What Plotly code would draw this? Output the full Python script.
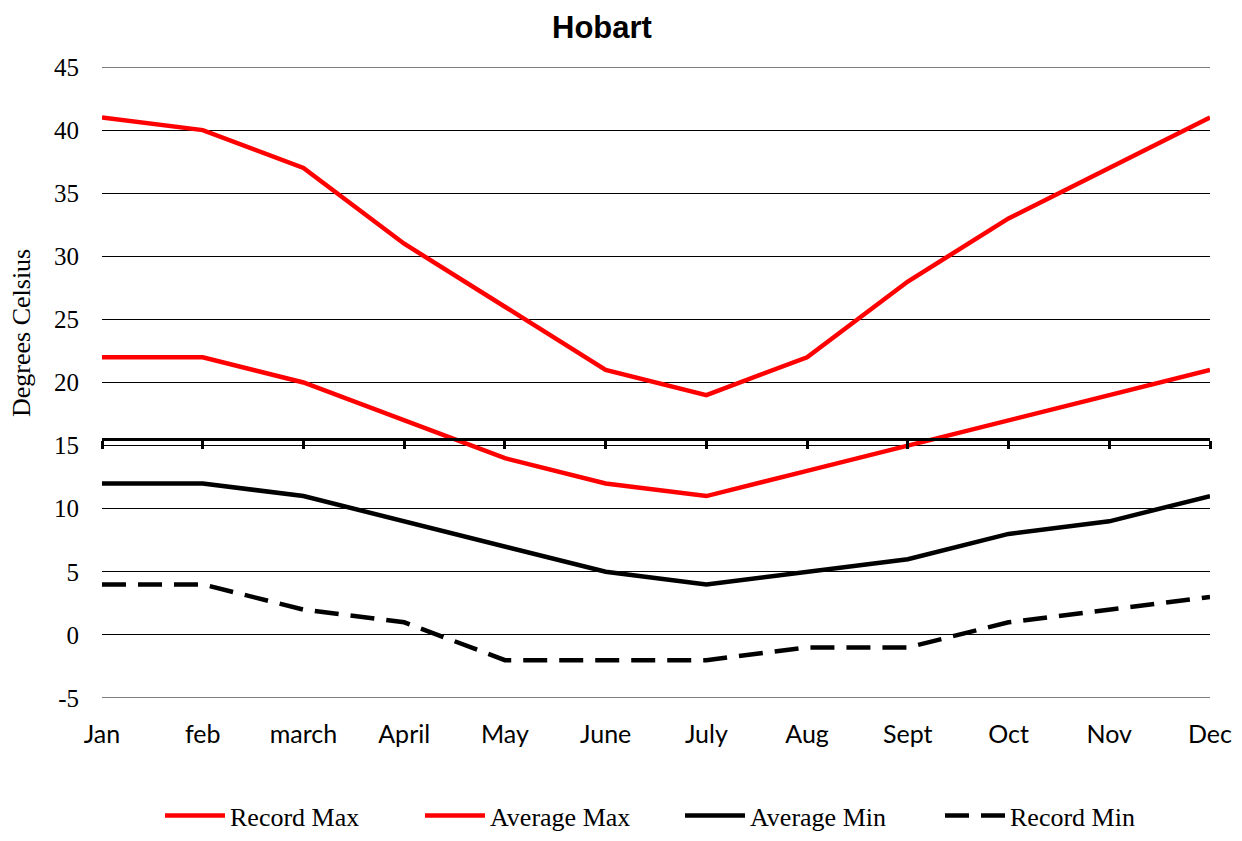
import plotly.graph_objects as go

months = ["Jan", "feb", "march", "April", "May", "June", "July", "Aug", "Sept", "Oct", "Nov", "Dec"]
record_max = [41, 40, 37, 31, 26, 21, 19, 22, 28, 33, 37, 41]
average_max = [22, 22, 20, 17, 14, 12, 11, 13, 15, 17, 19, 21]
average_min = [12, 12, 11, 9, 7, 5, 4, 5, 6, 8, 9, 11]
record_min = [4, 4, 2, 1, -2, -2, -2, -1, -1, 1, 2, 3]
y_ticks = [-5, 0, 5, 10, 15, 20, 25, 30, 35, 40, 45]
y_tick_text = [str(v) for v in y_ticks]
axis_cross = 15.5

x = list(range(len(months)))
W, H = 1242, 841
ml, mr, mt, mb = 102, 32, 67, 143
ymin, ymax = -5, 45
plot_w = W - ml - mr
plot_h = H - mt - mb

fig = go.Figure()
series = [
    ("Record Max", record_max, "#ff0000", False),
    ("Average Max", average_max, "#ff0000", False),
    ("Average Min", average_min, "#000000", False),
    ("Record Min", record_min, "#000000", True),
]
for name, vals, col, dashed in series:
    fig.add_trace(go.Scatter(
        x=x, y=vals, name=name, mode="lines",
        line=dict(color=col, width=4.5, dash="24px,12px" if dashed else "solid"),
    ))

# category axis drawn where it crosses the value axis
fig.add_trace(go.Scatter(x=[0, 11], y=[axis_cross, axis_cross], xaxis="x2",
                         mode="lines", line=dict(color="rgba(0,0,0,0)"),
                         showlegend=False, hoverinfo="skip"))

# gridlines at the two ends of the value range
for yv in (ymin, ymax):
    fig.add_shape(type="line", xref="paper", yref="y", x0=0, x1=1, y0=yv, y1=yv,
                  line=dict(color="black", width=1.2), layer="below")

# value-axis title
fig.add_annotation(text="Degrees Celsius", textangle=-90, showarrow=False,
                   xref="paper", yref="paper",
                   x=-(ml - 21) / plot_w, xanchor="center",
                   y=1 - (333 - mt) / plot_h, yanchor="middle",
                   font=dict(family="Liberation Serif, Times New Roman", size=26, color="black"))

pos = (axis_cross - ymin) / (ymax - ymin)

fig.update_layout(
    width=W, height=H,
    margin=dict(l=ml, r=mr, t=mt, b=mb, autoexpand=False),
    paper_bgcolor="white", plot_bgcolor="white",
    title=dict(text="<b>Hobart</b>", x=602 / W, xanchor="center", y=1 - 27 / H,
               yanchor="middle",
               font=dict(family="Liberation Sans, Arial", size=31, color="black")),
    xaxis=dict(range=[0, 11], tickvals=x, ticktext=months, showgrid=False, zeroline=False,
               showline=False, ticks="outside", ticklen=14, tickcolor="rgba(0,0,0,0)",
               tickfont=dict(family="Lato, Open Sans", size=25, color="black")),
    xaxis2=dict(range=[0, 11], overlaying="x", anchor="free", position=pos, side="bottom",
                tickvals=x, showticklabels=False, showgrid=False, zeroline=False,
                showline=True, linecolor="black", linewidth=3,
                ticks="outside", ticklen=8, tickwidth=3, tickcolor="black"),
    yaxis=dict(range=[ymin, ymax], tickvals=y_ticks, ticktext=y_tick_text, showgrid=True,
               gridcolor="black", gridwidth=1.2, zeroline=False, showline=False, ticks="",
               ticklabelstandoff=22,
               tickfont=dict(family="Liberation Serif, Times New Roman", size=25, color="black")),
    legend=dict(orientation="h", x=(160 - ml) / plot_w, xanchor="left",
                y=-(H - 2 - (H - mb)) / plot_h, yanchor="bottom",
                itemwidth=60, entrywidth=185, tracegroupgap=0,
                font=dict(family="Liberation Serif, Times New Roman", size=26, color="black")),
    showlegend=True,
)

fig.write_html("out.html")
